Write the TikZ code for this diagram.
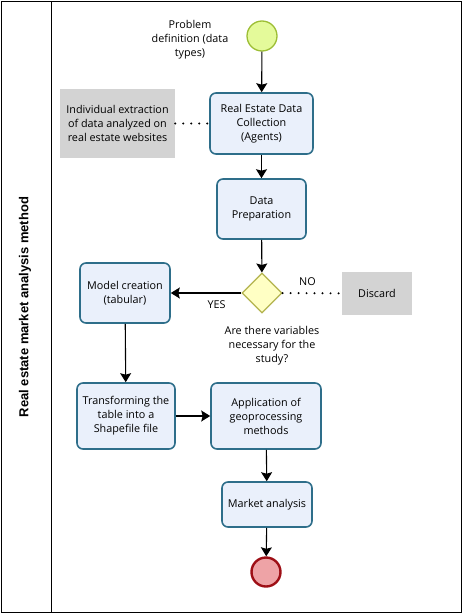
\documentclass[tikz,border=0pt]{standalone}
\usepackage{fontspec}
\setmainfont{Open Sans}
\newfontfamily\lanefont{Liberation Sans}
\usetikzlibrary{calc,arrows.meta,shapes.geometric}
\definecolor{taskfill}{HTML}{EAF0FB}
\definecolor{taskline}{HTML}{2E6E8A}
\definecolor{startfill}{HTML}{E4FA9A}
\definecolor{startline}{HTML}{9DBE35}
\definecolor{endfill}{HTML}{EEA3A6}
\definecolor{endline}{HTML}{9E0F16}
\definecolor{notefill}{HTML}{D3D3D3}
\definecolor{gatefill}{HTML}{FFFFC4}
\definecolor{gateline}{HTML}{B3B34E}
\tikzset{
  txt/.style={align=center, font=\fontsize{10.8}{14}\selectfont, inner sep=0pt},
  task/.style={txt, draw=taskline, fill=taskfill, line width=1.6pt, rounded corners=6pt},
  note/.style={txt, fill=notefill},
  gate/.style={diamond, draw=gateline, fill=gatefill, line width=1.3pt, minimum size=40pt, inner sep=0pt},
  start/.style={circle, draw=startline, fill=startfill, line width=1.3pt, minimum size=30pt, inner sep=0pt},
  finish/.style={circle, draw=endline, fill=endfill, line width=2.4pt, minimum size=29pt, inner sep=0pt},
  flow/.style={line width=1.1pt, -{Stealth[length=9pt,width=11pt,inset=1.5pt]}},
  assoc/.style={line width=2.2pt, line cap=round, dash pattern=on 0pt off 8pt},
}
\begin{document}
\begin{tikzpicture}[x=1pt,y=-1pt]
  \useasboundingbox (0,0) rectangle (463,616);
  % pool and lane
  \draw[line width=1pt] (1.5,1.5) rectangle (461.5,612);
  \draw[line width=1pt] (51,1.5) -- (51,612);
  \node[rotate=90, font=\lanefont\bfseries\fontsize{13}{15}\selectfont] (lane) at (25,307) {Real estate market analysis method};

  % events and tasks
  \node[start] (start) at (262,36) {};
  \node[txt] (problem) at (190,40) {Problem\\definition (data\\types)};
  \node[task, minimum width=103pt, minimum height=61pt] (collect) at (261.5,123.5) {Real Estate Data\\Collection\\(Agents)};
  \node[note, minimum width=115pt, minimum height=69pt] (extract) at (117.5,123.5) {Individual extraction\\of data analyzed on\\real estate websites};
  \node[task, minimum width=89pt, minimum height=60pt] (prep) at (261.5,209) {Data\\Preparation};
  \node[gate] (gate) at (262,293) {};
  \node[task, minimum width=90pt, minimum height=60pt] (model) at (125,293) {Model creation\\(tabular)};
  \node[note, minimum width=70pt, minimum height=43pt] (discard) at (377,293.5) {Discard};
  \node[txt] (question) at (272,346) {Are there variables\\necessary for the\\study?};
  \node[task, minimum width=98pt, minimum height=66pt] (shape) at (126,416) {Transforming the\\table into a\\Shapefile file};
  \node[task, minimum width=110pt, minimum height=66pt] (geo) at (266,416) {Application of\\geoprocessing\\methods};
  \node[task, minimum width=90pt, minimum height=45pt] (market) at (267,504.5) {Market analysis};
  \node[finish] (end) at (266,572) {};

  % connectors
  \draw[flow] (start) -- (collect);
  \draw[assoc] (extract) -- (collect);
  \draw[flow] (collect) -- (prep);
  \draw[flow] (prep) -- (gate);
  \draw[flow] (gate) -- node[txt, pos=0.35, below=7pt] {YES} (model);
  \draw[assoc] (gate) -- node[txt, pos=0.42, above=6pt] {NO} (discard);
  \draw[flow] (model) -- (shape);
  \draw[flow] (shape) -- (geo);
  \draw[flow] (geo) -- (market);
  \draw[flow] (market) -- (end);
\end{tikzpicture}
\end{document}
